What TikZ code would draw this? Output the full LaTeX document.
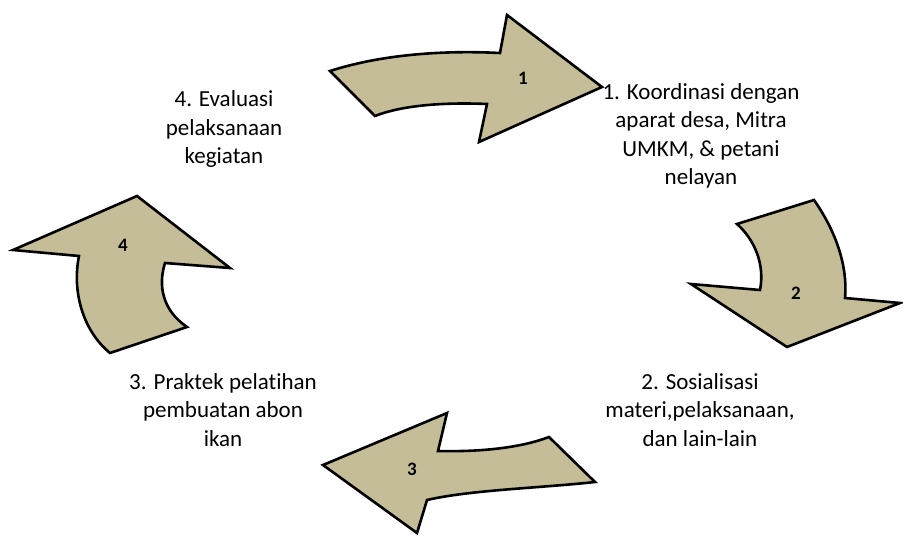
\documentclass[tikz,border=0pt]{standalone}
\usepackage{fontspec}
\setmainfont[Ligatures=NoCommon]{Carlito}
\definecolor{tan}{HTML}{C4BD97}
\begin{document}
\begin{tikzpicture}[x=1pt,y=-1pt,
  arrowshape/.style={fill=tan,draw=black,line width=2.6pt,line join=miter},
  numlabel/.style={font=\fontsize{19}{21}\selectfont\bfseries,inner sep=0pt},
  steptext/.style={font=\fontsize{23}{28.5}\selectfont,align=center,inner sep=0pt}]
\useasboundingbox (0,0) rectangle (903,536);
% arrow 1
\draw[arrowshape] (330,71) .. controls (380,55) and (440,50) .. (500,53) -- (507,15) -- (602,87) -- (479,142) -- (487,104) .. controls (440,102) and (400,106) .. (375,116) -- cycle;
% arrow 2
\draw[arrowshape] (737,224) -- (814,200) .. controls (835,230) and (848,265) .. (845,298) -- (900,303) -- (787,347) -- (691,284) -- (760,290) .. controls (765,265) and (755,240) .. (737,224) -- cycle;
% arrow 3
\draw[arrowshape] (549,437) -- (595,482) .. controls (540,488) and (470,490) .. (427,500) -- (417,533) -- (323,465) -- (447,413) -- (438,451) .. controls (480,452) and (520,448) .. (549,437) -- cycle;
% arrow 4
\draw[arrowshape] (13,250) -- (137,196) -- (230,268) -- (165,263) .. controls (158,285) and (162,310) .. (187,327) -- (110,353) .. controls (82,330) and (72,290) .. (79,256) -- cycle;
\node[numlabel] (n1) at (523,78) {1};
\node[numlabel] (n2) at (796,293) {2};
\node[numlabel] (n3) at (412,469) {3};
\node[numlabel] (n4) at (123,245) {4};
\node[steptext] (t1) at (701,136) {1. Koordinasi dengan\\aparat desa, Mitra\\UMKM, \& petani\\nelayan};
\node[steptext] (t2) at (700,410) {2. Sosialisasi\\materi,pelaksanaan,\\dan lain-lain};
\node[steptext] (t3) at (223,410) {3. Praktek pelatihan\\pembuatan abon\\ikan};
\node[steptext] (t4) at (224,129) {4. Evaluasi\\pelaksanaan\\kegiatan};
\end{tikzpicture}
\end{document}
